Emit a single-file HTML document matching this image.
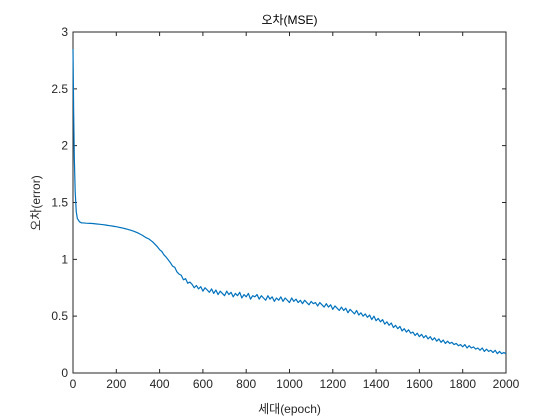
<!DOCTYPE html>
<html><head><meta charset="utf-8"><style>
html,body{margin:0;padding:0;background:#fff;}
svg{display:block;font-family:"Liberation Sans","Noto Sans CJK KR",sans-serif;}
</style></head><body>
<svg id="chart" width="560" height="420" viewBox="0 0 560 420">
<rect width="560" height="420" fill="#fff"/>
<g id="axes"></g>
<path id="line" fill="none" stroke="#0072BD" stroke-width="1.2" stroke-linejoin="round"/>
<text x="289.5" y="24" text-anchor="middle" font-size="12" fill="#000">오차(MSE)</text>
<text x="289.5" y="413" text-anchor="middle" font-size="12" fill="#262626">세대(epoch)</text>
<text transform="translate(40,203) rotate(-90)" text-anchor="middle" font-size="12" fill="#262626">오차(error)</text>
</svg>
<script>
const xTicks=[0,200,400,600,800,1000,1200,1400,1600,1800,2000];
const yTicks=[0,0.5,1,1.5,2,2.5,3];
const yTickLabels=["0","0.5","1","1.5","2","2.5","3"];
const earlyEpochs=[0,3,6,10,15,20,30,40];
const earlyErrors=[2.85,2.3,1.9,1.6,1.42,1.36,1.33,1.32];
const stepStart=50, stepSize=10;
const errors=[
1.32,1.318,1.317,1.316,1.315,1.313,1.311,1.309,1.307,1.305,
1.302,1.299,1.296,1.293,1.29,1.287,1.283,1.279,1.275,1.27,
1.265,1.26,1.254,1.248,1.24,1.232,1.222,1.212,1.2,1.188,
1.18,1.165,1.15,1.13,1.11,1.085,1.07,1.04,1.02,0.995,
0.97,0.94,0.93,0.89,0.87,0.86,0.82,0.83,0.79,0.80,
0.78,0.75,0.77,0.74,0.76,0.72,0.75,0.73,0.71,0.74,
0.70,0.73,0.69,0.72,0.70,0.68,0.72,0.69,0.71,0.67,
0.70,0.68,0.71,0.66,0.69,0.67,0.70,0.65,0.68,0.67,
0.69,0.65,0.68,0.66,0.64,0.68,0.65,0.67,0.63,0.66,
0.64,0.67,0.63,0.66,0.64,0.62,0.66,0.63,0.65,0.62,
0.64,0.61,0.64,0.62,0.60,0.63,0.61,0.62,0.59,0.62,
0.60,0.58,0.61,0.58,0.60,0.56,0.59,0.57,0.55,0.58,
0.55,0.57,0.53,0.56,0.54,0.52,0.55,0.51,0.53,0.50,
0.52,0.49,0.51,0.47,0.50,0.46,0.48,0.45,0.47,0.43,
0.45,0.42,0.44,0.40,0.42,0.39,0.41,0.37,0.39,0.36,
0.38,0.35,0.36,0.33,0.35,0.32,0.34,0.31,0.33,0.30,
0.32,0.29,0.31,0.28,0.30,0.27,0.29,0.26,0.28,0.26,
0.27,0.25,0.26,0.24,0.25,0.23,0.25,0.22,0.24,0.22,
0.23,0.21,0.22,0.20,0.22,0.19,0.21,0.19,0.20,0.18,
0.20,0.17,0.19,0.17,0.18,0.17];

const L=73,R=506,T=32,B=373;
const xMin=0,xMax=2000,yMin=0,yMax=3;
function sx(v){return L+(v-xMin)/(xMax-xMin)*(R-L);}
function sy(v){return B-(v-yMin)/(yMax-yMin)*(B-T);}
const NS="http://www.w3.org/2000/svg";
const axes=document.getElementById('axes');
function mk(tag,attrs){const e=document.createElementNS(NS,tag);for(const k in attrs)e.setAttribute(k,attrs[k]);axes.appendChild(e);return e;}

const box=mk('rect',{x:L,y:T,width:R-L,height:B-T,fill:'none',stroke:'#262626','stroke-width':1});



xTicks.forEach(v=>{
  const x=sx(v);
  const t=mk('path',{d:`M${x},${B}v-4M${x},${T}v4`,stroke:'#262626','stroke-width':1});
  
  
  const lb=mk('text',{x:x,y:B+15,'text-anchor':'middle','font-size':12,fill:'#262626'});
  lb.textContent=String(v);
  
  
});
yTicks.forEach((v,i)=>{
  const y=sy(v);
  const t=mk('path',{d:`M${L},${y}h4M${R},${y}h-4`,stroke:'#262626','stroke-width':1});
  
  
  const lb=mk('text',{x:L-5,y:y+4,'text-anchor':'end','font-size':12,fill:'#262626'});
  lb.textContent=yTickLabels[i];
  
  
});

let d='';
earlyEpochs.forEach((e,i)=>{d+=(i?'L':'M')+sx(e).toFixed(2)+','+sy(earlyErrors[i]).toFixed(2);});
errors.forEach((v,i)=>{const e=stepStart+i*stepSize;d+='L'+sx(e).toFixed(2)+','+sy(v).toFixed(2);});
document.getElementById('line').setAttribute('d',d);
</script>
</body></html>
